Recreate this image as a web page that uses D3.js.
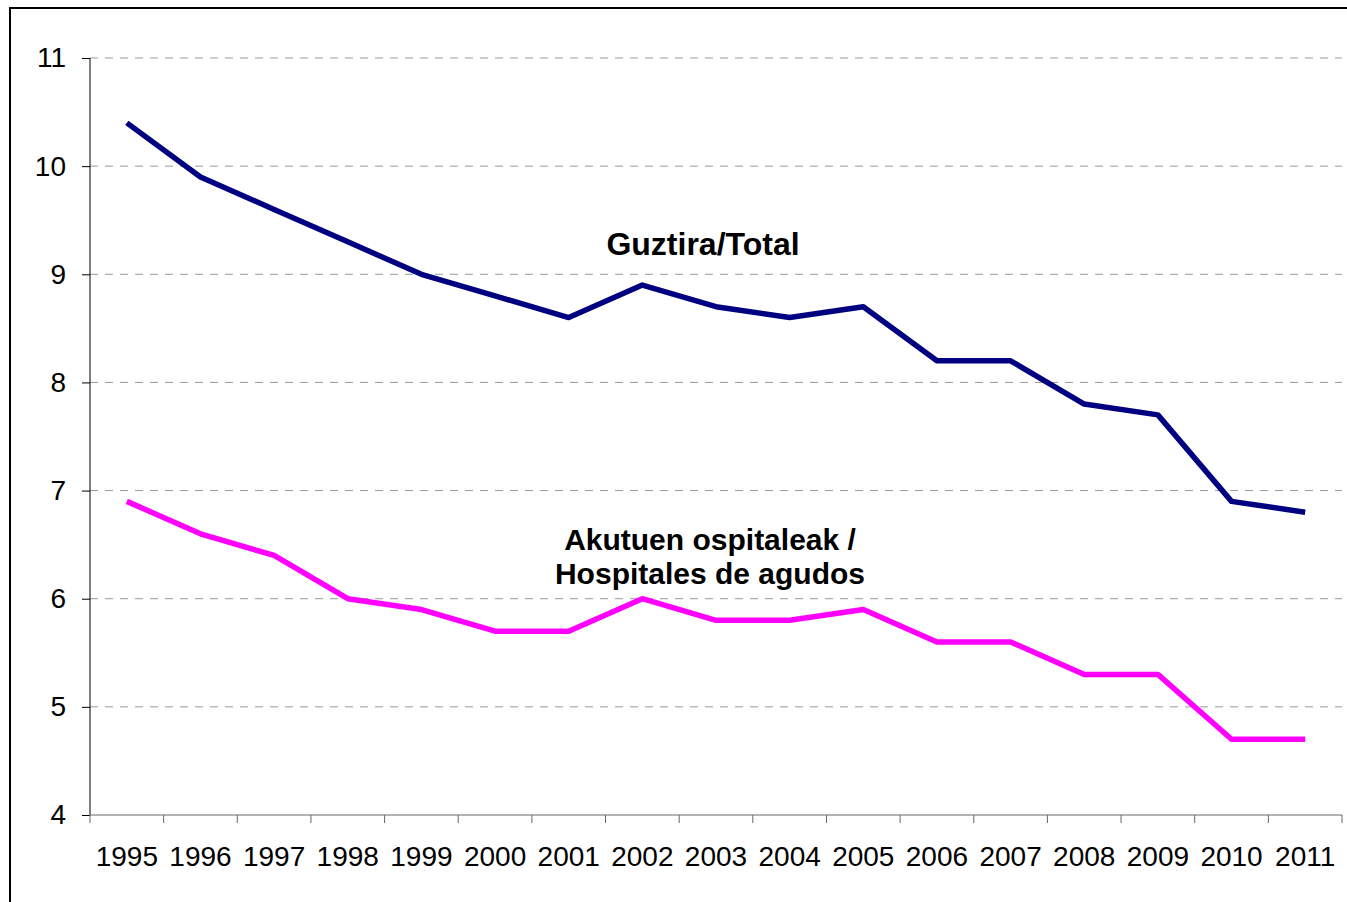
<!DOCTYPE html>
<html>
<head>
<meta charset="utf-8">
<script src="https://cdn.jsdelivr.net/npm/d3@7"></script>
<style>
  html, body { margin: 0; padding: 0; background: #fff; }
  svg { display: block; font-family: "Liberation Sans", Arial, sans-serif; }
</style>
</head>
<body>
<div id="root"></div>
<script>
const years = ['1995', '1996', '1997', '1998', '1999', '2000', '2001', '2002', '2003',
  '2004', '2005', '2006', '2007', '2008', '2009', '2010', '2011'];
const totalValues = [10.4, 9.9, 9.6, 9.3, 9.0, 8.8, 8.6, 8.9, 8.7, 8.6, 8.7, 8.2, 8.2, 7.8, 7.7, 6.9, 6.8];
const acuteValues = [6.9, 6.6, 6.4, 6.0, 5.9, 5.7, 5.7, 6.0, 5.8, 5.8, 5.9, 5.6, 5.6, 5.3, 5.3, 4.7, 4.7];
const yTicks = [4, 5, 6, 7, 8, 9, 10, 11];
const totalLabel = ['Guztira/Total'];
const acuteLabel = ['Akutuen ospitaleak /', 'Hospitales de agudos'];

const width = 1347;
const height = 902;
const plotLeft = 90;
const plotRight = 1342;
const plotTop = 58;
const plotBottom = 815;

const svg = d3.select('#root')
  .append('svg')
  .attr('width', width)
  .attr('height', height);

// outer frame (right and bottom edges fall outside the picture)
svg.append('rect')
  .attr('x', 10)
  .attr('y', 8)
  .attr('width', width + 20)
  .attr('height', height + 20)
  .attr('fill', 'none')
  .attr('stroke', '#000')
  .attr('stroke-width', 2);

const x = d3.scaleBand()
  .domain(years)
  .range([ plotLeft, plotRight ])
  .padding(0);

const y = d3.scaleLinear()
  .domain([ 4, 11 ])
  .range([ plotBottom, plotTop ]);

const xMid = (d) => x(d) + x.bandwidth() / 2;

// grid
svg.append('g')
  .selectAll('line')
  .data(yTicks.filter((t) => t !== 4))
  .enter()
  .append('line')
  .attr('x1', plotLeft)
  .attr('x2', plotRight)
  .attr('y1', (d) => y(d))
  .attr('y2', (d) => y(d))
  .attr('stroke', '#999')
  .attr('stroke-width', 1)
  .attr('stroke-dasharray', '8,7');

// y axis
const yAxis = svg.append('g')
  .attr('transform', `translate(${ plotLeft },0)`)
  .call(d3.axisLeft(y).tickValues(yTicks).tickSize(8).tickPadding(16).tickFormat(d3.format('d')));
yAxis.select('.domain').attr('stroke', '#000').attr('d', `M0,${ plotTop }V${ plotBottom }`);
yAxis.selectAll('.tick line').attr('stroke', '#000');
yAxis.selectAll('.tick text')
  .attr('font-size', '28px')
  .attr('font-family', '"Liberation Sans", Arial, sans-serif')
  .attr('fill', '#000');

// x axis
const xAxis = svg.append('g')
  .attr('transform', `translate(0,${ plotBottom })`)
  .call(d3.axisBottom(x).tickSize(0).tickPadding(31));
xAxis.select('.domain').attr('stroke', '#666').attr('d', `M${ plotLeft },0H${ plotRight }`);
xAxis.selectAll('.tick text')
  .attr('font-size', '28px')
  .attr('font-family', '"Liberation Sans", Arial, sans-serif')
  .attr('fill', '#000');

const boundaries = years.map((d) => x(d)).concat([ plotRight ]);
xAxis.append('g')
  .selectAll('line')
  .data(boundaries)
  .enter()
  .append('line')
  .attr('x1', (d) => d)
  .attr('x2', (d) => d)
  .attr('y1', 0)
  .attr('y2', 8)
  .attr('stroke', '#666');

const line = d3.line()
  .x((d, i) => xMid(years[i]))
  .y((d) => y(d));

svg.append('path')
  .datum(acuteValues)
  .attr('d', line)
  .attr('fill', 'none')
  .attr('stroke', '#ff00ff')
  .attr('stroke-width', 5.5)
  .attr('stroke-linejoin', 'round');

svg.append('path')
  .datum(totalValues)
  .attr('d', line)
  .attr('fill', 'none')
  .attr('stroke', '#000080')
  .attr('stroke-width', 5.5)
  .attr('stroke-linejoin', 'round');

// series labels
svg.append('text')
  .attr('x', 703)
  .attr('y', 255)
  .attr('text-anchor', 'middle')
  .attr('font-size', '32px')
  .attr('font-weight', 'bold')
  .attr('fill', '#000')
  .text(totalLabel[0]);

svg.append('g')
  .selectAll('text')
  .data(acuteLabel)
  .enter()
  .append('text')
  .attr('x', 710)
  .attr('y', (d, i) => 550 + i * 34)
  .attr('text-anchor', 'middle')
  .attr('font-size', '30px')
  .attr('font-weight', 'bold')
  .attr('fill', '#000')
  .text((d) => d);
</script>
</body>
</html>
